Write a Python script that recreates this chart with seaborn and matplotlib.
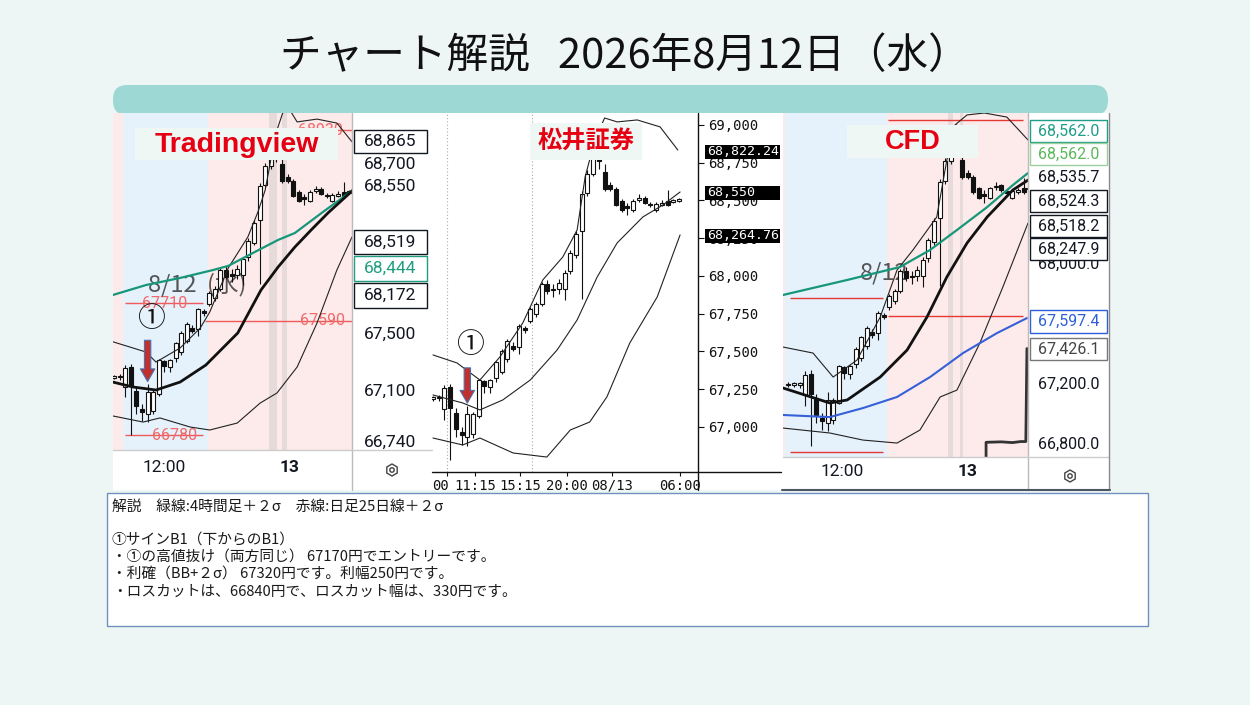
import numpy as np
import pandas as pd
import matplotlib
matplotlib.use('Agg')
import matplotlib.pyplot as plt
import matplotlib.patches as mpatches
import matplotlib.transforms as mtrans
import seaborn as sns

W, H = 1250, 705

# 30分足（3つのチャートで同じ値動き） k = ローソク足の番号
candle_k = list(range(-1, 44))
opens = [67190, 67188, 67190, 67118, 67263, 67091, 66966, 66932, 66953, 67070,
         67304, 67263, 67325, 67367, 67449, 67539, 67532, 67656, 67705, 67746,
         67815, 67946, 67912, 67912, 67912, 68036, 68139, 68298, 68547, 68678,
         68800, 68690, 68602, 68574, 68498, 68455, 68436, 68505, 68519, 68475,
         68436, 68471, 68498, 68491, 68498]
highs = [67205, 67205, 67210, 67277, 67285, 67125, 67001, 67140, 67100, 67320,
         67311, 67320, 67440, 67515, 67580, 67560, 67680, 67670, 67795, 67830,
         67960, 67975, 67950, 67980, 68040, 68170, 68300, 68560, 68700, 68860,
         68930, 68740, 68620, 68590, 68510, 68484, 68510, 68540, 68530, 68490,
         68490, 68500, 68567, 68510, 68515]
lows = [67175, 67175, 67170, 67049, 66780, 66932, 66884, 66877, 66930, 67060,
        67228, 67228, 67300, 67350, 67430, 67500, 67484, 67625, 67690, 67730,
        67800, 67880, 67860, 67880, 67843, 68010, 68120, 67850, 68530, 68660,
        68705, 68560, 68560, 68460, 68425, 68401, 68425, 68490, 68475, 68455,
        68425, 68460, 68460, 68480, 68490]
closes = [67185, 67190, 67196, 67256, 67125, 66987, 66946, 67084, 67084, 67311,
          67270, 67311, 67429, 67505, 67567, 67518, 67670, 67643, 67781, 67815,
          67946, 67898, 67905, 67953, 68022, 68153, 68277, 68540, 68678, 68800,
          68760, 68574, 68574, 68471, 68436, 68450, 68498, 68510, 68484, 68468,
          68478, 68484, 68471, 68498, 68505]
sign_k = 6   # ①のローソク足

# Tradingview ボリンジャーバンド等 (k, 価格)
tv_upper_k = [-0.2, 5.7, 7.5, 11.8, 15.4, 17.1, 20.4, 23.9, 25.7, 27.0, 28.0, 29.1, 30.7, 32.7, 36.25, 39.8, 42.5]
tv_upper = [67440, 67368, 67297, 67396, 67537, 67650, 67960, 68179, 68355, 68510, 68722, 68933, 69120, 68990, 69010, 68982, 68850]
tv_mid_k = [-0.2, 3.4, 7.5, 11.8, 16.4, 22.1, 26.25, 29.3, 32.3, 35.2, 38.2, 42.7]
tv_mid = [67156, 67121, 67100, 67156, 67276, 67502, 67805, 67967, 68108, 68228, 68348, 68510]
tv_lower_k = [-0.2, 5.2, 8.2, 13.6, 17.1, 22.0, 26.1, 29.1, 32.7, 36.25, 39.8, 42.5]
tv_lower = [66917, 66874, 66903, 66839, 66818, 66867, 67008, 67079, 67262, 67572, 67946, 68179]
tv_green_k = [-0.2, 5.7, 11.8, 17.7, 20.4, 24.8, 29.3, 32.3, 37.3, 42.7]
tv_green = [67770, 67840, 67890, 67946, 67975, 68066, 68158, 68207, 68355, 68510]
tv_red_lines = [(68930, 32.3, 42.5, 36.8), (67710, 2.0, 15.9, 9.1),
                (67590, 16.25, 42.5, 37.3), (66780, 2.0, 15.9, 10.9)]
tv_ticks = [66740, 67100, 67500, 68550, 68700]
tv_time_pos = [8.93, 31.25]
tv_time_lab = ['12:00', '13']
tv_tags = [('68,865', 130, 153, '#131722', '#131722'),
           ('68,519', 230, 254, '#131722', '#131722'),
           ('68,444', 256, 281, '#1f9e80', '#1f9e80'),
           ('68,172', 283, 308, '#131722', '#131722')]

# 松井証券
ms_upper_k = [0, 4.2, 8.2, 11.7, 15.7, 19.2, 22.7, 25.2, 26.6, 28.3, 30.0, 32.2, 35.7, 39.7, 42.8]
ms_upper = [67477, 67424, 67311, 67464, 67689, 67974, 68126, 68305, 68656, 68900, 69046, 69020, 69033, 68987, 68834]
ms_mid_k = [0, 5.2, 8.2, 12.2, 17.0, 21.7, 25.2, 28.7, 32.2, 36.7, 40.2, 43.2]
ms_mid = [67212, 67159, 67113, 67179, 67311, 67510, 67709, 67993, 68219, 68391, 68470, 68556]
ms_lower_k = [0, 5.2, 8.2, 14.0, 19.9, 24.0, 27.4, 30.4, 34.4, 39.2, 43.2]
ms_lower = [66927, 66881, 66927, 66828, 66801, 66980, 67033, 67199, 67556, 67861, 68272]
ms_ticks = [67000, 67250, 67500, 67750, 68000, 68250, 68500, 68750, 69000]
ms_time_pos = [2.45, 7.34, 15.2, 23.4, 31.3, 43.2]
ms_time_lab = ['', '11:15', '15:15', '20:00', '08/13', '06:00']
ms_grid_k = [2.45, 17.3]
ms_tag_vals = [68822.24, 68550, 68264.76]
ms_tag_labs = ['68,822.24', '68,550', '68,264.76']

# CFD
cfd_upper_k = [-1.96, 3.4, 7.0, 11.25, 15.4, 18.4, 21.25, 25.5, 27.3, 28.75, 30.9, 34.0, 38.0, 41.8]
cfd_upper = [67440, 67400, 67240, 67353, 67640, 67953, 68087, 68307, 68687, 68920, 68987, 69000, 68973, 68820]
cfd_mid_k = [-1.96, 6.4, 9.5, 15.4, 20.2, 23.75, 27.3, 30.9, 34.5, 39.1, 41.8]
cfd_mid = [67167, 67067, 67087, 67240, 67420, 67640, 67907, 68133, 68307, 68487, 68553]
cfd_lower_k = [-1.96, 6.4, 12.3, 18.4, 22.5, 26.1, 29.1, 33.2, 37.3, 41.8]
cfd_lower = [66900, 66867, 66820, 66800, 66887, 67107, 67153, 67467, 67840, 68267]
cfd_green_k = [-1.96, 9.5, 18.9, 24.3, 29.1, 34.5, 39.1, 41.8]
cfd_green = [67787, 67887, 67973, 68087, 68220, 68373, 68520, 68600]
cfd_blue_k = [-1.96, 6.4, 12.3, 18.4, 24.3, 30.2, 36.25, 41.6]
cfd_blue = [66987, 66973, 67033, 67107, 67240, 67400, 67533, 67633]
cfd_osc_k = [34.3, 34.3, 37.0, 39.0, 40.5, 41.4, 41.6]
cfd_osc = [66690, 66805, 66808, 66803, 66810, 66810, 67430]
cfd_red_lines = [(68953, 16.8, 40.9), (67767, -0.7, 15.9), (67647, 16.8, 40.9), (66740, -0.7, 15.9)]
cfd_ticks = [66800, 67200, 67600, 68000, 68400, 68800]
cfd_time_pos = [8.57, 30.9]
cfd_time_lab = ['12:00', '13']
cfd_tags = [('68,562.0', 120, 142, '#1f9e8a', '#1f9e8a'),
            ('68,562.0', 143, 165, '#5cb85c', '#9ccf9c'),
            ('68,524.3', 190, 212, '#131722', '#131722'),
            ('68,518.2', 215, 237, '#131722', '#131722'),
            ('68,247.9', 238, 260, '#131722', '#131722'),
            ('67,597.4', 310, 333, '#2e5fd8', '#2e5fd8'),
            ('67,426.1', 338, 360, '#444444', '#777777')]
cfd_plain_tag = ('68,535.7', 177)

title = 'チャート解説   2026年8月12日（水）'
desc_lines = ['解説\u3000緑線:4時間足＋２σ\u3000赤線:日足25日線＋２σ',
              '',
              '①サインB1（下からのB1）',
              '・①の高値抜け（両方同じ） 67170円でエントリーです。',
              '・利確（BB+２σ） 67320円です。利幅250円です。',
              '・ロスカットは、66840円で、ロスカット幅は、330円です。']

candles = pd.DataFrame({'k': candle_k, 'open': opens, 'high': highs, 'low': lows, 'close': closes})

sns.set_theme(style='white')
plt.rcParams['font.family'] = ['Noto Sans CJK JP', 'DejaVu Sans']

fig = plt.figure(figsize=(12.5, 7.05), dpi=100)
fig.patch.set_facecolor('#eef6f5')


def px_axes(x0, y0, x1, y1, z):
    return fig.add_axes([x0 / W, 1 - y1 / H, (x1 - x0) / W, (y1 - y0) / H], zorder=z)


def draw_candles(ax, body_w):
    d = candles
    ax.vlines(d['k'], d['low'], d['high'], color='#111111', lw=0.8, zorder=3)
    up = d['close'] >= d['open']
    bottom = np.minimum(d['open'], d['close'])
    height = np.maximum((d['close'] - d['open']).abs(), 10)
    ax.bar(d['k'], height, bottom=bottom, width=body_w,
           color=np.where(up, 'white', '#111111'), edgecolor='#111111',
           linewidth=0.8, zorder=4)


def band(ax, ks, vals, color, lw):
    sns.lineplot(x=ks, y=vals, ax=ax, color=color, linewidth=lw,
                 estimator=None, sort=False, zorder=5)


def sign_arrow(ax, length):
    hi = candles.set_index('k').loc[sign_k, 'high']
    ax.annotate('', xy=(sign_k, hi), xytext=(sign_k, hi + length),
                arrowprops=dict(arrowstyle='simple,head_length=0.7,head_width=0.8,tail_width=0.35',
                                fc='#c0302c', ec='#4b6fb0', lw=0.8, mutation_scale=13),
                zorder=7)


# ---------- 背景 ----------
bg = px_axes(0, 0, W, H, 0)
bg.set_xlim(0, W)
bg.set_ylim(H, 0)
bg.axis('off')
bg.text(625, 57, title, fontsize=30, ha='center', va='center', color='#111111')
bg.add_patch(mpatches.FancyBboxPatch((113, 85), 995, 30, boxstyle='round,pad=0,rounding_size=14',
                                     fc='#9ed8d5', ec='none'))
bg.add_patch(mpatches.Rectangle((113, 113), 319, 377, fc='white', ec='none'))
bg.add_patch(mpatches.Rectangle((432, 113), 350, 377, fc='white', ec='none'))
bg.add_patch(mpatches.Rectangle((782, 113), 327, 377, fc='white', ec='none'))
bg.add_patch(mpatches.Rectangle((107, 493), 1041, 133, fc='white', ec='#7090c0', lw=1))
for i, line in enumerate(desc_lines):
    bg.text(112, 507 + 17 * i, line, fontsize=10.6, ha='left', va='center', color='#1a1a1a')

# ---------- Tradingview ----------
ax1 = px_axes(113, 113, 352, 450, 1)
ax1.set_facecolor('#fdeaea')
ax1.axvspan(1.6, 16.8, color='#e5f1fb', lw=0, zorder=0)
for a, b in [(27.7, 29.1), (30.0, 30.9)]:
    ax1.axvspan(a, b, color='#e6dada', lw=0, zorder=0.5)
for price, k0, k1, kl in tv_red_lines:
    ax1.hlines(price, k0, k1, color='#f05a5a', lw=1, zorder=1.5)
    ax1.text(kl, price, f'{price}', color='#f06a6a', fontsize=11.5, fontfamily='Roboto',
             ha='center', va='center', zorder=2)
ax1.text(6.1, 67840, '8/12  (水)', fontsize=17, color='#444444', alpha=0.9,
         ha='left', va='center', zorder=2)
draw_candles(ax1, 0.7)
band(ax1, tv_upper_k, tv_upper, '#222222', 0.8)
band(ax1, tv_lower_k, tv_lower, '#222222', 0.8)
band(ax1, tv_green_k, tv_green, '#16977a', 1.6)
band(ax1, tv_mid_k, tv_mid, '#111111', 2.0)
ax1.text(6.6, 67600, '①', fontsize=20, ha='center', va='center', color='#111111', zorder=6)
sign_arrow(ax1, 330)
ax1.yaxis.tick_right()
ax1.set_yticks(tv_ticks, labels=[f'{v:,}' for v in tv_ticks],
               fontfamily='Roboto', fontsize=12.5, color='#131722')
ax1.set_xticks(tv_time_pos, labels=tv_time_lab, fontfamily='Roboto', fontsize=12.5, color='#131722')
ax1.get_xticklabels()[1].set_fontweight('bold')
ax1.tick_params(axis='both', length=0)
ax1.tick_params(axis='y', pad=8.5)
ax1.tick_params(axis='x', pad=7)
for s in ax1.spines.values():
    s.set_visible(False)
ax1.set(xlabel='', ylabel='')
ax1.set_xlim(-0.18, 42.5)
ax1.set_ylim(66677, 69053)

# ---------- 松井証券 ----------
ax2 = px_axes(432, 113, 698, 472, 1)
ax2.set_facecolor('white')
for gk in ms_grid_k:
    ax2.axvline(gk, color='#aaaaaa', ls=(0, (1, 2)), lw=0.8, zorder=1)
draw_candles(ax2, 0.7)
band(ax2, ms_upper_k, ms_upper, '#222222', 0.8)
band(ax2, ms_mid_k, ms_mid, '#222222', 0.8)
band(ax2, ms_lower_k, ms_lower, '#222222', 0.8)
ax2.text(6.5, 67543, '①', fontsize=20, ha='center', va='center', color='#111111', zorder=6)
sign_arrow(ax2, 270)
ax2.set_yticks(ms_ticks, labels=[f'{v:,}' for v in ms_ticks],
               fontfamily='DejaVu Sans Mono', fontsize=10, color='#111111')
ax2.set_xticks(ms_time_pos, labels=ms_time_lab, fontfamily='DejaVu Sans Mono', fontsize=10, color='#111111')
ax2.tick_params(axis='y', right=True, left=False, labelright=True, labelleft=False,
                length=4, width=0.8, color='#111111', pad=3, direction='out')
ax2.tick_params(axis='x', bottom=True, length=3, width=0.8, color='#111111', pad=2, direction='out')
for s in ax2.spines.values():
    s.set_visible(False)
bt = mtrans.blended_transform_factory(ax2.transAxes, ax2.transData)
for v, lab in zip(ms_tag_vals, ms_tag_labs):
    ax2.add_patch(mpatches.Rectangle(((705 - 432) / 266, v - 48), 75 / 266, 96, transform=bt,
                                     fc='black', ec='none', clip_on=False, zorder=6))
    ax2.text((707 - 432) / 266, v, lab, transform=bt, color='white', fontfamily='DejaVu Sans Mono',
             fontsize=9.5, ha='left', va='center', clip_on=False, zorder=7)
ax2.set(xlabel='', ylabel='')
ax2.set_xlim(-0.175, 46.33)
ax2.set_ylim(66702, 69079)

# ---------- CFD ----------
ax3 = px_axes(783, 113, 1028, 457, 1)
ax3.set_facecolor('#fdeaea')
ax3.axvspan(-1.6, 16.6, color='#e5f1fb', lw=0, zorder=0)
for a, b in [(27.5, 28.4), (29.6, 30.2)]:
    ax3.axvspan(a, b, color='#e6dada', lw=0, zorder=0.5)
for price, k0, k1 in cfd_red_lines:
    ax3.hlines(price, k0, k1, color='#e53935', lw=1, zorder=1.5)
ax3.text(11.8, 67933, '8/12', fontsize=17, color='#444444', alpha=0.9,
         ha='left', va='center', zorder=2)
draw_candles(ax3, 0.7)
band(ax3, cfd_upper_k, cfd_upper, '#222222', 0.8)
band(ax3, cfd_lower_k, cfd_lower, '#222222', 0.8)
band(ax3, cfd_blue_k, cfd_blue, '#3560d8', 1.5)
band(ax3, cfd_green_k, cfd_green, '#16977a', 1.6)
band(ax3, cfd_mid_k, cfd_mid, '#111111', 2.0)
band(ax3, cfd_osc_k, cfd_osc, '#333333', 2.0)
ax3.yaxis.tick_right()
ax3.set_yticks(cfd_ticks, labels=[f'{v:,.1f}' for v in cfd_ticks],
               fontfamily='Roboto', fontsize=11.5, color='#131722')
ax3.set_xticks(cfd_time_pos, labels=cfd_time_lab, fontfamily='Roboto', fontsize=12.5, color='#131722')
ax3.get_xticklabels()[1].set_fontweight('bold')
ax3.tick_params(axis='both', length=0)
ax3.tick_params(axis='y', pad=7)
ax3.tick_params(axis='x', pad=5)
for s in ax3.spines.values():
    s.set_visible(False)
ax3.set(xlabel='', ylabel='')
ax3.set_xlim(-1.96, 41.79)
ax3.set_ylim(66707, 69000)

# ---------- 前面（ラベル・枠） ----------
top = px_axes(0, 0, W, H, 10)
top.set_xlim(0, W)
top.set_ylim(H, 0)
top.axis('off')

# Tradingview 枠線・価格タグ
top.plot([352, 352], [113, 490], color='#bbbbbb', lw=1)
top.plot([113, 432], [450, 450], color='#cccccc', lw=1)
for lab, y0, y1, tc, ec in tv_tags:
    top.add_patch(mpatches.Rectangle((354, y0), 73, y1 - y0, fc='white', ec=ec, lw=1))
    top.text(364, (y0 + y1) / 2, lab, color=tc, fontfamily='Roboto', fontsize=12.5,
             ha='left', va='center')
top.add_patch(mpatches.Rectangle((135, 128), 203, 32, fc='#eef7f4', ec='none'))
top.text(237, 145, 'Tradingview', color='#e60012', fontsize=20.5, fontweight='bold',
         fontfamily='Liberation Sans', ha='center', va='center')

# 松井証券
top.plot([698, 698], [113, 490], color='#111111', lw=1)
top.plot([432, 781], [472, 472], color='#111111', lw=1)
top.text(432, 486, '00', fontfamily='DejaVu Sans Mono', fontsize=10, color='#111111',
         ha='left', va='center')
top.add_patch(mpatches.Rectangle((530, 123), 112, 37, fc='#eef7f4', ec='none'))
top.text(586, 142, '松井証券', color='#e60012', fontsize=17.5, fontweight='bold',
         ha='center', va='center')

# CFD
top.plot([1028, 1028], [113, 490], color='#bbbbbb', lw=1)
top.plot([783, 1108], [457, 457], color='#cccccc', lw=1)
top.plot([1108.5, 1108.5], [113, 490], color='#8a8a8a', lw=1)
top.plot([782, 1110], [490, 490], color='#4a5866', lw=1.5)
for lab, y0, y1, tc, ec in cfd_tags:
    top.add_patch(mpatches.Rectangle((1030, y0), 77, y1 - y0, fc='white', ec=ec, lw=1))
    top.text(1038, (y0 + y1) / 2, lab, color=tc, fontfamily='Roboto', fontsize=11.5,
             ha='left', va='center')
top.text(1038, cfd_plain_tag[1], cfd_plain_tag[0], color='#131722', fontfamily='Roboto',
         fontsize=11.5, ha='left', va='center')
top.add_patch(mpatches.Rectangle((847, 125), 131, 33, fc='#eef7f4', ec='none'))
top.text(913, 142, 'CFD', color='#e60012', fontsize=19.5, fontweight='bold',
         fontfamily='Liberation Sans', ha='center', va='center')

# 設定アイコン
for cx, cy in [(392, 470), (1070, 476)]:
    top.add_patch(mpatches.RegularPolygon((cx, cy), 6, radius=6, fill=False, ec='#444444', lw=1))
    top.add_patch(mpatches.Circle((cx, cy), 2.2, fill=False, ec='#444444', lw=1))

fig.savefig('out.png', dpi=100, facecolor=fig.get_facecolor())
